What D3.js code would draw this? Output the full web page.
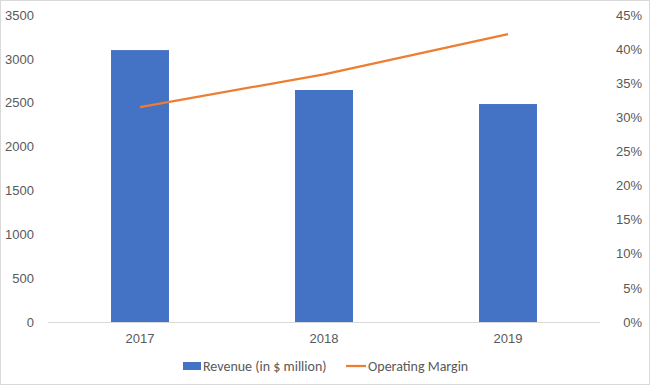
<!DOCTYPE html>
<html>
<head>
<meta charset="utf-8">
<script src="https://cdn.jsdelivr.net/npm/d3@7"></script>
<style>
  body { margin: 0; background: #fff; }
  svg { font-family: Carlito, "Liberation Sans", "Open Sans", sans-serif; }
</style>
</head>
<body>
<div id="chart"></div>
<script>
const years = ["2017", "2018", "2019"];
const revenue = [3100, 2645, 2485];
const margin = [0.315, 0.363, 0.422];
const revenueTicks = [0, 500, 1000, 1500, 2000, 2500, 3000, 3500];
const marginTicks = [0, 0.05, 0.10, 0.15, 0.20, 0.25, 0.30, 0.35, 0.40, 0.45];

const W = 650, H = 385;
const m = {top: 15, right: 50, bottom: 63, left: 48};
const width = W - m.left - m.right;
const height = H - m.top - m.bottom;

const svg = d3.select("#chart").append("svg")
    .attr("width", W)
    .attr("height", H);

// chart border
svg.append("rect")
    .attr("x", 0.5).attr("y", 0.5)
    .attr("width", W - 1).attr("height", H - 1)
    .attr("fill", "#fff")
    .attr("stroke", "#d9d9d9");

const g = svg.append("g")
    .attr("transform", "translate(" + m.left + "," + m.top + ")");

const xScale = d3.scaleBand().domain(years).range([0, width]).paddingInner(0.685).paddingOuter(0.3425);
const yLeft = d3.scaleLinear().domain([0, 3500]).range([height, 0]);
const yRight = d3.scaleLinear().domain([0, 0.45]).range([height, 0]);

// bars
g.selectAll(".bar")
    .data(years)
    .join("rect")
    .attr("class", "bar")
    .attr("x", d => xScale(d))
    .attr("width", xScale.bandwidth())
    .attr("y", (d, i) => yLeft(revenue[i]))
    .attr("height", (d, i) => height - yLeft(revenue[i]))
    .attr("fill", "#4472c4");

// x axis baseline
g.append("line")
    .attr("x1", 0).attr("x2", width)
    .attr("y1", height + 0.5).attr("y2", height + 0.5)
    .attr("stroke", "#d9d9d9");

// left axis
const leftAxis = g.append("g")
    .call(d3.axisLeft(yLeft).tickValues(revenueTicks).tickSize(0).tickPadding(14)
        .tickFormat(d3.format("d")));
leftAxis.select(".domain").remove();

// right axis
const rightAxis = g.append("g")
    .attr("transform", "translate(" + width + ",0)")
    .call(d3.axisRight(yRight).tickValues(marginTicks).tickSize(0).tickPadding(13)
        .tickFormat(d => Math.round(d * 100) + "%"));
rightAxis.select(".domain").remove();
rightAxis.selectAll("text").attr("text-anchor", "end").attr("dx", "29");

// bottom axis
const bottomAxis = g.append("g")
    .attr("transform", "translate(0," + height + ")")
    .call(d3.axisBottom(xScale).tickSize(0).tickPadding(12));
bottomAxis.select(".domain").remove();

g.selectAll(".tick text")
    .attr("fill", "#595959")
    .style("font-size", "13px");

// margin line
const line = d3.line()
    .x((d, i) => xScale(years[i]) + xScale.bandwidth() / 2)
    .y(d => yRight(d));

g.append("path")
    .datum(margin)
    .attr("d", line)
    .attr("fill", "none")
    .attr("stroke", "#ed7d31")
    .attr("stroke-width", 2.25);

// legend
const legend = svg.append("g")
    .attr("transform", "translate(0,366)");
legend.append("rect")
    .attr("x", 183).attr("y", -4)
    .attr("width", 18).attr("height", 8)
    .attr("fill", "#4472c4");
legend.append("text")
    .attr("x", 203).attr("y", 0).attr("dy", "0.35em")
    .attr("fill", "#595959").style("font-size", "14px")
    .text("Revenue (in $ million)");
legend.append("line")
    .attr("x1", 346).attr("x2", 366)
    .attr("y1", 0).attr("y2", 0)
    .attr("stroke", "#ed7d31").attr("stroke-width", 2.25);
legend.append("text")
    .attr("x", 368).attr("y", 0).attr("dy", "0.35em")
    .attr("fill", "#595959").style("font-size", "14px")
    .text("Operating Margin");
</script>
</body>
</html>
